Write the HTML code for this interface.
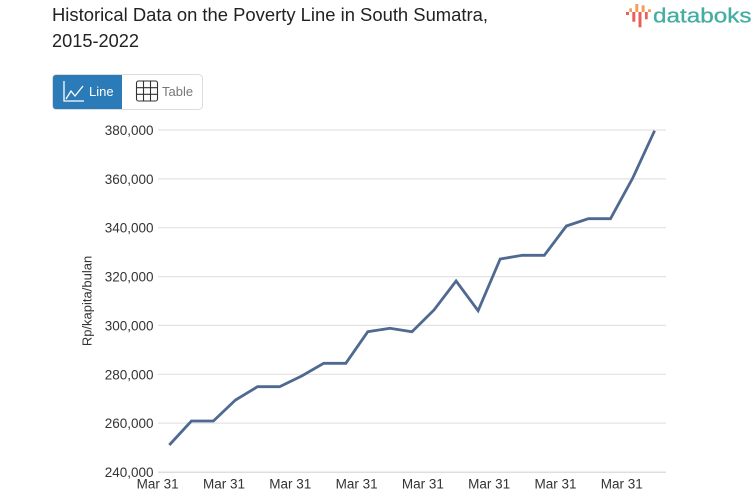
<!DOCTYPE html>
<html>
<head>
<meta charset="utf-8">
<style>
  html, body { margin: 0; padding: 0; background: #ffffff; }
  body { width: 753px; height: 498px; overflow: hidden; }
  svg { display: block; }
  text { font-family: "Liberation Sans", "DejaVu Sans", sans-serif; }
</style>
</head>
<body>
<svg width="753" height="498" viewBox="0 0 753 498" xmlns="http://www.w3.org/2000/svg">
  <!-- Title -->
  <text x="52" y="21" font-size="18.5" fill="#222" textLength="436" lengthAdjust="spacingAndGlyphs">Historical Data on the Poverty Line in South Sumatra,</text>
  <text x="52" y="47" font-size="18.5" fill="#222" textLength="87" lengthAdjust="spacingAndGlyphs">2015-2022</text>

  <!-- Logo -->
  <g>
    <rect x="626" y="12" width="3" height="3" fill="#e8605a"/>
    <rect x="629.3" y="8.3" width="2.7" height="3.7" fill="#f4a15a"/>
    <rect x="632.3" y="12" width="3" height="9.7" fill="#e8605a"/>
    <rect x="635.3" y="4" width="3" height="8" fill="#f4a15a"/>
    <rect x="638.5" y="12" width="3" height="15.3" fill="#e8605a"/>
    <rect x="641.6" y="5.3" width="3" height="6.7" fill="#f4a15a"/>
    <rect x="645" y="12" width="2.7" height="7.3" fill="#e8605a"/>
    <rect x="648" y="9.3" width="3" height="2.7" fill="#f4a15a"/>
  </g>
  <text x="653" y="22.7" font-size="20" fill="#45ada2" stroke="#45ada2" stroke-width="0.3" textLength="98.5" lengthAdjust="spacingAndGlyphs">databoks</text>

  <!-- Buttons -->
  <rect x="52.5" y="74.5" width="150" height="35" rx="4" ry="4" fill="#fff" stroke="#dcdcdc" stroke-width="1"/>
  <path d="M56,75 H122 V109 H56 Q53,109 53,106 V78 Q53,75 56,75 Z" fill="#2a7bb8"/>
  <g stroke="#ffffff" stroke-width="1.3" fill="none">
    <polyline points="64,81 64,101 84,101"/>
    <polyline points="66,99 71,91 75,96 83,86"/>
  </g>
  <text x="89" y="96" font-size="13" fill="#ffffff">Line</text>
  <g stroke="#333" stroke-width="1.1" fill="none">
    <rect x="136.5" y="81" width="21" height="20" rx="2"/>
    <line x1="143.5" y1="81" x2="143.5" y2="101"/>
    <line x1="150.5" y1="81" x2="150.5" y2="101"/>
    <line x1="136.5" y1="87.7" x2="157.5" y2="87.7"/>
    <line x1="136.5" y1="94.3" x2="157.5" y2="94.3"/>
  </g>
  <text x="162" y="96" font-size="13" fill="#777">Table</text>

  <!-- Gridlines -->
  <g stroke="#e3e3e3" stroke-width="1.2">
    <line x1="158" y1="130" x2="666" y2="130"/>
    <line x1="158" y1="178.9" x2="666" y2="178.9"/>
    <line x1="158" y1="227.7" x2="666" y2="227.7"/>
    <line x1="158" y1="276.6" x2="666" y2="276.6"/>
    <line x1="158" y1="325.4" x2="666" y2="325.4"/>
    <line x1="158" y1="374.3" x2="666" y2="374.3"/>
    <line x1="158" y1="423.1" x2="666" y2="423.1"/>
  </g>
  <line x1="158" y1="472.3" x2="666" y2="472.3" stroke="#dedede" stroke-width="1.5"/>

  <!-- Y tick labels -->
  <g font-size="13.5" fill="#333" text-anchor="end">
    <text x="153.5" y="135">380,000</text>
    <text x="153.5" y="183.9">360,000</text>
    <text x="153.5" y="232.7">340,000</text>
    <text x="153.5" y="281.6">320,000</text>
    <text x="153.5" y="330.4">300,000</text>
    <text x="153.5" y="379.3">280,000</text>
    <text x="153.5" y="428.1">260,000</text>
    <text x="153.5" y="477">240,000</text>
  </g>

  <!-- Y axis title -->
  <text x="0" y="0" font-size="13" fill="#333" text-anchor="middle" transform="translate(91.5,301) rotate(-90)">Rp/kapita/bulan</text>

  <!-- X tick labels -->
  <g font-size="13.5" fill="#333" text-anchor="middle">
    <text x="157.7" y="488.5">Mar 31</text>
    <text x="224" y="488.5">Mar 31</text>
    <text x="290.3" y="488.5">Mar 31</text>
    <text x="356.6" y="488.5">Mar 31</text>
    <text x="422.9" y="488.5">Mar 31</text>
    <text x="489.2" y="488.5">Mar 31</text>
    <text x="555.5" y="488.5">Mar 31</text>
    <text x="621.8" y="488.5">Mar 31</text>
  </g>

  <!-- Series -->
  <polyline fill="none" stroke="#4f6990" stroke-width="2.8" stroke-linejoin="miter" stroke-linecap="butt"
    points="169.3,445 191.4,421 213.4,421 235.5,400 257.5,386.7 279.6,386.7 301.7,376 323.7,363.3 345.8,363.3 367.8,331.7 389.9,328.3 412,331.7 434,310 456.1,281 478.1,310.7 500.2,259 522.3,255.3 544.3,255.3 566.4,226 588.4,218.7 610.5,218.7 632.6,178.3 654.6,130.7"/>
</svg>
</body>
</html>
